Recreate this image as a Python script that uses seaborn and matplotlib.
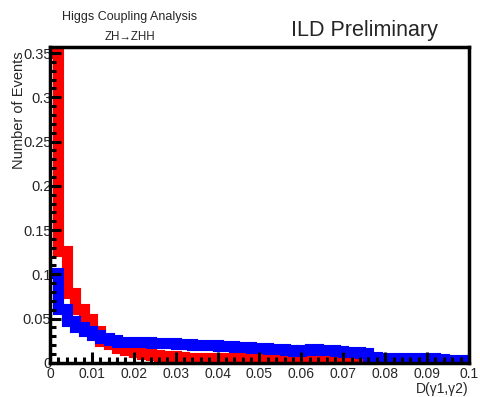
import numpy as np
import pandas as pd
import seaborn as sns
import matplotlib.pyplot as plt
from matplotlib.ticker import MultipleLocator

# histogram contents, 50 bins of width 0.002 between 0 and 0.1
bin_lo = np.arange(50) * 0.002
bin_centers = bin_lo + 0.001

red_vals = [0.35, 0.126, 0.079, 0.061, 0.050, 0.036, 0.025, 0.021, 0.017, 0.014,
            0.012, 0.010, 0.009, 0.008, 0.0075, 0.0065, 0.006, 0.006, 0.0055, 0.0055,
            0.0055, 0.005, 0.0055, 0.005, 0.005, 0.005, 0.0045, 0.005, 0.0045, 0.0045,
            0.005, 0.0055, 0.0045, 0.004, 0.0045, 0.005, 0.004, 0.003, 0.003, 0.0025,
            0.002, 0.002, 0.0015, 0.002, 0.0015, 0.0015, 0.001, 0.0015, 0.001, 0.001]

blue_vals = [0.102, 0.061, 0.047, 0.040, 0.036, 0.031, 0.028, 0.026, 0.024, 0.023,
             0.023, 0.023, 0.022, 0.022, 0.022, 0.021, 0.021, 0.020, 0.020, 0.020,
             0.019, 0.019, 0.018, 0.018, 0.017, 0.017, 0.016, 0.016, 0.014, 0.013,
             0.015, 0.016, 0.015, 0.014, 0.013, 0.012, 0.012, 0.011, 0.007, 0.006,
             0.006, 0.006, 0.0055, 0.0055, 0.005, 0.005, 0.0045, 0.0035, 0.0035, 0.0035]

x_ticks = [0, 0.01, 0.02, 0.03, 0.04, 0.05, 0.06, 0.07, 0.08, 0.09, 0.1]
x_ticklabels = ['0', '0.01', '0.02', '0.03', '0.04', '0.05', '0.06', '0.07', '0.08', '0.09', '0.1']
y_ticks = [0, 0.05, 0.1, 0.15, 0.2, 0.25, 0.3, 0.35]
y_ticklabels = ['0', '0.05', '0.1', '0.15', '0.2', '0.25', '0.3', '0.35']

df = pd.DataFrame({'x': bin_centers, 'red': red_vals, 'blue': blue_vals})

sns.set_style('white')
plt.rcParams['font.family'] = ['Liberation Sans', 'DejaVu Sans']

fig = plt.figure(figsize=(4.81, 3.97), dpi=100)
ax = fig.add_axes([0.104, 0.086, 0.871, 0.796])

line_kw = dict(solid_joinstyle='miter', solid_capstyle='butt')
sns.histplot(data=df, x='x', weights='red', binwidth=0.002, binrange=(0, 0.1),
             element='step', fill=False, color='red', linewidth=8, zorder=1,
             ax=ax, **line_kw)
sns.histplot(data=df, x='x', weights='blue', binwidth=0.002, binrange=(0, 0.1),
             element='step', fill=False, color='blue', linewidth=8, zorder=1.1,
             ax=ax, **line_kw)

ax.set_axisbelow(False)
ax.set_xlim(0, 0.1)
ax.set_ylim(0, 0.357)
ax.set_xticks(x_ticks)
ax.set_xticklabels(x_ticklabels)
ax.set_yticks(y_ticks)
ax.set_yticklabels(y_ticklabels)
ax.xaxis.set_minor_locator(MultipleLocator(0.002))
ax.yaxis.set_minor_locator(MultipleLocator(0.01))
ax.tick_params(axis='both', which='both', bottom=True, left=True, top=False, right=False)
ax.tick_params(axis='both', which='major', direction='in', length=8, width=2.2,
               labelsize=10, color='black')
ax.tick_params(axis='both', which='minor', direction='in', length=4.5, width=2.2,
               color='black')
ax.tick_params(axis='x', which='major', pad=3)
ax.tick_params(axis='y', which='major', pad=-1, labelsize=10.5)

for side in ['left', 'bottom', 'top', 'right']:
    ax.spines[side].set_color('black')
    ax.spines[side].set_linewidth(2.5)
    ax.spines[side].set_zorder(5)

ax.set_ylabel('Number of Events', fontsize=10.5, loc='top', labelpad=-2)
ax.yaxis.label.set_y(0.985)
ax.set_xlabel('D(\u03b31,\u03b32)', fontsize=10, loc='right', labelpad=0.5)

fig.text(0.27, 0.957, 'Higgs Coupling Analysis', fontsize=9, ha='center', va='center')
fig.text(0.27, 0.907, 'ZH\u2192ZHH', fontsize=8.3, ha='center', va='center')
fig.text(0.757, 0.922, 'ILD Preliminary', fontsize=15.5, ha='center', va='center')

fig.savefig('out.png', dpi=100)
